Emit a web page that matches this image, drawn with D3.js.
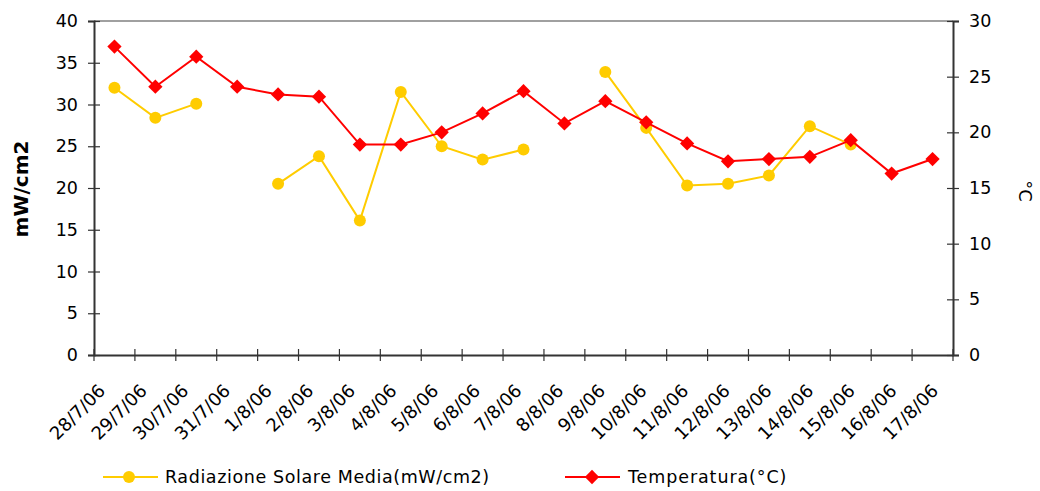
<!DOCTYPE html>
<html>
<head>
<meta charset="utf-8">
<script src="https://cdn.jsdelivr.net/npm/d3@7"></script>
<style>
  body { margin: 0; background: #fff; }
  text { font-family: "DejaVu Sans", sans-serif; fill: #000; }
</style>
</head>
<body>
<div class="chart"></div>
<script>
var dates = ["28/7/06", "29/7/06", "30/7/06", "31/7/06", "1/8/06", "2/8/06", "3/8/06",
  "4/8/06", "5/8/06", "6/8/06", "7/8/06", "8/8/06", "9/8/06", "10/8/06", "11/8/06",
  "12/8/06", "13/8/06", "14/8/06", "15/8/06", "16/8/06", "17/8/06"];

// mW/cm2, null where missing
var radiazione = [32.0, 28.4, 30.1, null, 20.5, 23.8, 16.1, 31.5, 25.0, 23.4, 24.6, null,
  33.9, 27.2, 20.3, 20.5, 21.5, 27.4, 25.2, null, null];

// °C
var temperatura = [27.7, 24.1, 26.8, 24.1, 23.4, 23.2, 18.9, 18.9, 20.0, 21.7, 23.7, 20.8,
  22.8, 20.9, 19.0, 17.4, 17.6, 17.8, 19.3, 16.3, 17.6];

var leftTicks = [0, 5, 10, 15, 20, 25, 30, 35, 40];
var rightTicks = [0, 5, 10, 15, 20, 25, 30];

var opts = { width: 1040, height: 491, left: 94, right: 953, top: 21, bottom: 355 };

var svg = d3.select(".chart").append("svg")
  .attr("width", opts.width)
  .attr("height", opts.height);

var x = d3.scaleBand().domain(dates).range([opts.left, opts.right]);
var yL = d3.scaleLinear().domain([0, 40]).range([opts.bottom, opts.top]);
var yR = d3.scaleLinear().domain([0, 30]).range([opts.bottom, opts.top]);

var cx = function (d) { return x(d) + x.bandwidth() / 2; };

// top frame line
svg.append("line")
  .attr("x1", opts.left).attr("x2", opts.right)
  .attr("y1", opts.top).attr("y2", opts.top)
  .attr("stroke", "#808080").attr("stroke-width", 1.5);

// axes
var axisL = svg.append("g").attr("transform", "translate(" + opts.left + ",0)")
  .call(d3.axisLeft(yL).tickValues(leftTicks).tickSize(6).tickPadding(10));
var axisR = svg.append("g").attr("transform", "translate(" + opts.right + ",0)")
  .call(d3.axisRight(yR).tickValues(rightTicks).tickSize(6).tickPadding(10));
var axisB = svg.append("g").attr("transform", "translate(0," + opts.bottom + ")")
  .call(d3.axisBottom(x).tickSize(0).tickFormat(""));

[axisL, axisR, axisB].forEach(function (g) {
  g.select(".domain").attr("stroke", "#333").attr("stroke-width", 2);
  g.selectAll(".tick line").attr("stroke", "#333").attr("stroke-width", 1.2);
  g.selectAll("text").style("font-size", "17.5px").attr("fill", "#000");
});
// ticks crossing the axis
axisL.selectAll(".tick line").attr("x1", 6);
axisR.selectAll(".tick line").attr("x1", -6);

// x ticks at band edges, crossing
var edges = dates.map(function (d) { return x(d); }).concat([opts.right]);
svg.append("g").selectAll("line").data(edges).enter().append("line")
  .attr("x1", function (d) { return d; }).attr("x2", function (d) { return d; })
  .attr("y1", opts.bottom - 6).attr("y2", opts.bottom + 6)
  .attr("stroke", "#333").attr("stroke-width", 1.2);

// x labels rotated (excel spreads them a little wider than the ticks)
svg.append("g").selectAll("text").data(dates).enter().append("text")
  .attr("transform", function (d, i) {
    return "translate(" + (cx(d) - 17 + 0.75 * i) + "," + (opts.bottom + 28) + ") rotate(-45)";
  })
  .attr("text-anchor", "end")
  .attr("dy", "0.7em")
  .style("font-size", "18px")
  .text(function (d) { return d; });

// axis titles
svg.append("text")
  .attr("transform", "translate(21," + ((opts.top + opts.bottom) / 2 + 1) + ") rotate(-90)")
  .attr("text-anchor", "middle").attr("dy", "0.35em")
  .style("font-size", "20px").style("font-weight", "bold")
  .text("mW/cm2");
svg.append("text")
  .attr("transform", "translate(1025," + ((opts.top + opts.bottom) / 2 + 3) + ") rotate(90)")
  .attr("text-anchor", "middle").attr("dy", "0.35em")
  .style("font-size", "18px")
  .text("°C");

// series
var radColor = "#FFCC00";
var tempColor = "#FF0000";

var radLine = d3.line()
  .defined(function (d) { return d.v !== null; })
  .x(function (d) { return cx(d.k); })
  .y(function (d) { return yL(d.v); });
var tempLine = d3.line()
  .x(function (d) { return cx(d.k); })
  .y(function (d) { return yR(d.v); });

var radData = dates.map(function (k, i) { return { k: k, v: radiazione[i] }; });
var tempData = dates.map(function (k, i) { return { k: k, v: temperatura[i] }; });

svg.append("path").datum(radData)
  .attr("d", radLine).attr("fill", "none")
  .attr("stroke", radColor).attr("stroke-width", 2);
svg.append("g").selectAll("circle")
  .data(radData.filter(function (d) { return d.v !== null; }))
  .enter().append("circle")
  .attr("cx", function (d) { return cx(d.k); })
  .attr("cy", function (d) { return yL(d.v); })
  .attr("r", 6)
  .attr("fill", radColor);

svg.append("path").datum(tempData)
  .attr("d", tempLine).attr("fill", "none")
  .attr("stroke", tempColor).attr("stroke-width", 2);
var diamond = d3.symbol().type(d3.symbolDiamond2).size(130);
svg.append("g").selectAll("path")
  .data(tempData).enter().append("path")
  .attr("d", diamond)
  .attr("transform", function (d) { return "translate(" + cx(d.k) + "," + yR(d.v) + ")"; })
  .attr("fill", tempColor);

// legend
var legend = svg.append("g");
legend.append("line").attr("x1", 103).attr("x2", 158).attr("y1", 477).attr("y2", 477)
  .attr("stroke", radColor).attr("stroke-width", 2);
legend.append("circle").attr("cx", 129).attr("cy", 477).attr("r", 6).attr("fill", radColor);
legend.append("text").attr("x", 165).attr("y", 477).attr("dy", "0.35em")
  .style("font-size", "17.5px").style("letter-spacing", "0.6px")
  .text("Radiazione Solare Media(mW/cm2)");

legend.append("line").attr("x1", 565).attr("x2", 620).attr("y1", 477).attr("y2", 477)
  .attr("stroke", tempColor).attr("stroke-width", 2);
legend.append("path").attr("d", diamond).attr("transform", "translate(592,477)").attr("fill", tempColor);
legend.append("text").attr("x", 628).attr("y", 477).attr("dy", "0.35em")
  .style("font-size", "17.5px").style("letter-spacing", "0.9px")
  .text("Temperatura(°C)");
</script>
</body>
</html>
